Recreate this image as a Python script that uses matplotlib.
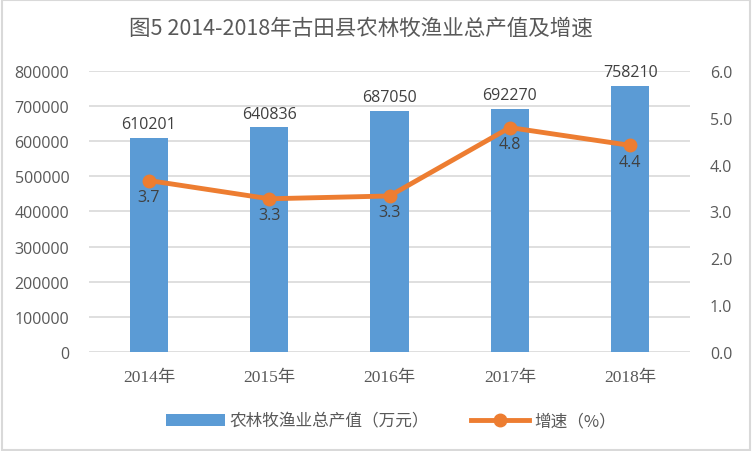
import matplotlib.pyplot as plt
import numpy as np

plt.rcParams['font.family'] = ['Noto Sans CJK SC', 'DejaVu Sans']

years = ['2014年', '2015年', '2016年', '2017年', '2018年']
output_value = [610201, 640836, 687050, 692270, 758210]
growth = [3.66, 3.27, 3.33, 4.79, 4.41]
growth_labels = ['3.7', '3.3', '3.3', '4.8', '4.4']

bar_color = '#5b9bd5'
line_color = '#ed7d31'
text_color = '#595959'
label_color = '#404040'

fig = plt.figure(figsize=(7.52, 4.52), dpi=100)
fig.patches.append(plt.Rectangle((0.002, 0.002), 0.996, 0.996, transform=fig.transFigure,
                                 fill=False, edgecolor='#d9d9d9', linewidth=1.5))
ax = fig.add_axes([0.118, 0.219, 0.800, 0.622])
x = np.arange(len(years))

ax.bar(x, output_value, width=0.32, color=bar_color, zorder=2, label='农林牧渔业总产值（万元）')
for xi, v in zip(x, output_value):
    ax.text(xi, v + 15000, str(v), ha='center', va='bottom', fontsize=11.5,
            color=label_color, family=['Open Sans', 'DejaVu Sans'])

ax.set_ylim(0, 800000)
ax.set_xlim(-0.5, len(years) - 0.5)
ax.set_yticks(np.arange(0, 800001, 100000))
ax.yaxis.grid(True, color='#d9d9d9', linewidth=1.2, zorder=0)
ax.set_axisbelow(True)
for s in ax.spines.values():
    s.set_visible(False)
ax.tick_params(axis='both', length=0, colors=text_color, labelsize=11.5)
ax.tick_params(axis='y', pad=14)
ax.tick_params(axis='x', pad=12)
ax.set_xticks(x)
ax.set_xticklabels(years, family=['Liberation Serif', 'Noto Sans CJK SC'], fontsize=12.5)
for lab in ax.get_yticklabels():
    lab.set_family(['Open Sans', 'DejaVu Sans'])

ax2 = ax.twinx()
ax2.plot(x, growth, color=line_color, linewidth=3.5, marker='o', markersize=9,
         zorder=3, label='增速（%）')
for xi, g, t in zip(x, growth, growth_labels):
    ax2.text(xi, g - 0.18, t, ha='center', va='top', fontsize=11.5,
             color=label_color, family=['Open Sans', 'DejaVu Sans'])
ax2.set_ylim(0, 6)
ax2.set_yticks(np.arange(0, 6.1, 1.0))
ax2.set_yticklabels([f'{v:.1f}' for v in np.arange(0, 6.1, 1.0)],
                    family=['Open Sans', 'DejaVu Sans'])
for s in ax2.spines.values():
    s.set_visible(False)
ax2.tick_params(axis='y', length=0, colors=text_color, labelsize=11.5, pad=14)

fig.suptitle('图5 2014-2018年古田县农林牧渔业总产值及增速', x=0.48, y=0.96,
             fontsize=15.5, color=text_color)

h1, l1 = ax.get_legend_handles_labels()
h2, l2 = ax2.get_legend_handles_labels()
fig.legend(h1 + h2, l1 + l2, loc='center', bbox_to_anchor=(0.52, 0.066), ncol=2,
           frameon=False, fontsize=12, labelcolor=text_color, handlelength=3.5,
           columnspacing=2.5, handletextpad=0.3)

fig.savefig('out.png', dpi=100)
